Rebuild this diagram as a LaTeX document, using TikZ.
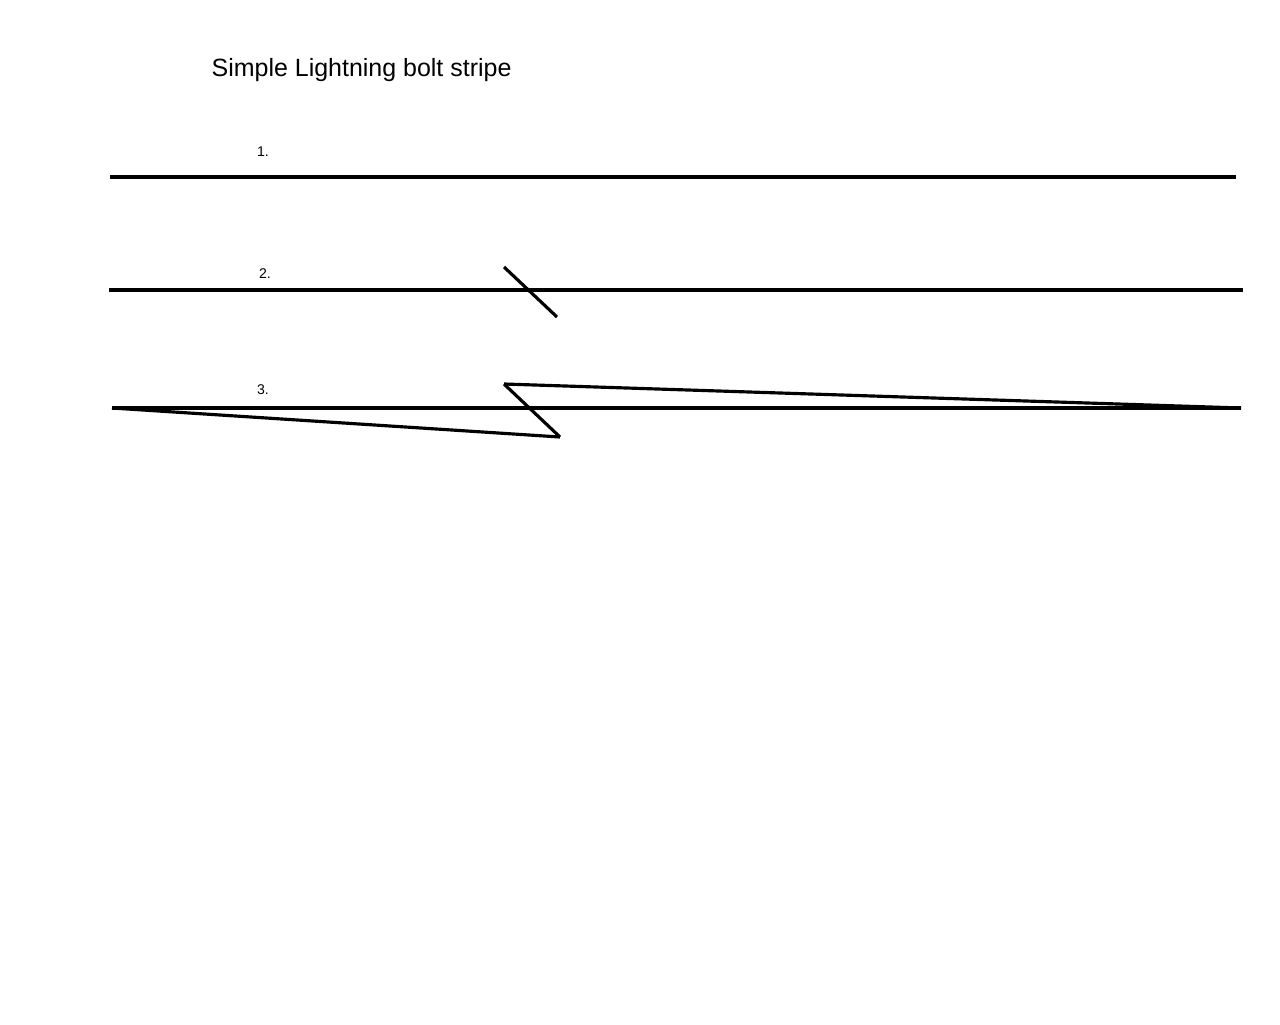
\documentclass[tikz,border=0pt]{standalone}
\usepackage{fontspec}
\setmainfont{Liberation Sans}
\begin{document}
\begin{tikzpicture}[x=0.01cm,y=-0.01cm]
        % Define dimensions
        \def\lw{0.9pt}
        \tikzset{stripe/.style={black,line width=\lw},
                 numlabel/.style={font=\fontsize{4}{5}\selectfont,inner sep=0pt}}

        % Page
        \useasboundingbox[fill=white] (0,0) rectangle (1280,1024);

        % Title
        \node[font=\fontsize{7.1}{8.5}\selectfont,inner sep=0pt,anchor=west] (title) at (211,70) {Simple Lightning bolt stripe};

        % Step labels
        \node[numlabel] (n1) at (263,152) {1.};
        \node[numlabel] (n2) at (265,274) {2.};
        \node[numlabel] (n3) at (263,390) {3.};

        % 1. plain stripe
        \coordinate (a1) at (110,177);
        \coordinate (b1) at (1236,177);
        \draw[stripe] (a1) -- (b1);

        % 2. stripe with the cut
        \coordinate (a2) at (109,290);
        \coordinate (b2) at (1243,290);
        \coordinate (c2) at (504,267);
        \coordinate (d2) at (557,317);
        \draw[stripe] (a2) -- (b2);
        \draw[stripe] (c2) -- (d2);

        % 3. the bolt
        \coordinate (a3) at (112,408);
        \coordinate (b3) at (1241,408);
        \coordinate (c3) at (504,384);
        \coordinate (d3) at (560,437);
        \draw[stripe] (a3) -- (b3);
        \draw[stripe] (a3) -- (d3);
        \draw[stripe] (d3) -- (c3);
        \draw[stripe] (c3) -- (b3);
    \end{tikzpicture}
\end{document}
